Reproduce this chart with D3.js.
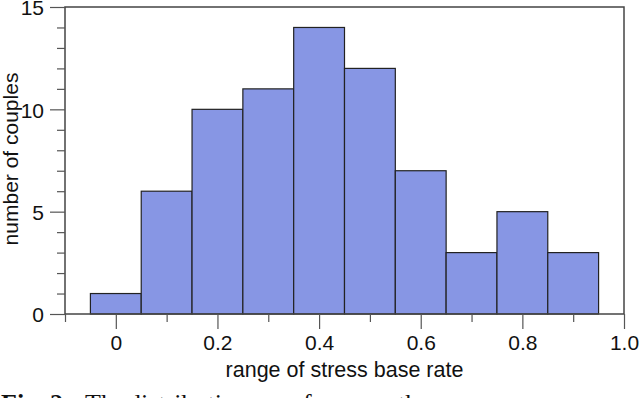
<!DOCTYPE html>
<html><head><meta charset="utf-8">
<script src="https://cdn.jsdelivr.net/npm/d3@7"></script>
<style>body{margin:0;background:#fff}svg{display:block}</style>
</head><body>
<script>
const binCenters = [0, 0.1, 0.2, 0.3, 0.4, 0.5, 0.6, 0.7, 0.8, 0.9];
const counts = [1, 6, 10, 11, 14, 12, 7, 3, 5, 3];
const binWidth = 0.1;
const xMajorTicks = [0, 0.2, 0.4, 0.6, 0.8, 1.0];
const xMinorTicks = [-0.1, 0.1, 0.3, 0.5, 0.7, 0.9];
const yMajorTicks = [0, 5, 10, 15];
const yMinorTicks = [1,2,3,4,6,7,8,9,11,12,13,14];
const captionWords = ["The", "distribution", "of", "the"];

const W = 640, H = 398;
const L = 65, R = 624, T = 7, B = 314;
const svg = d3.select("body").append("svg").attr("width", W).attr("height", H);
const x = d3.scaleLinear().domain([-0.1, 1.0]).range([L, R]);
const y = d3.scaleLinear().domain([0, 15]).range([B, T]);
const font = "'Liberation Sans', Arial, Helvetica, sans-serif";

// bars
svg.append("g").selectAll("rect").data(counts).join("rect")
  .attr("x", (d,i) => x(binCenters[i] - binWidth/2))
  .attr("y", d => y(d))
  .attr("width", (d,i) => x(binCenters[i] + binWidth/2) - x(binCenters[i] - binWidth/2))
  .attr("height", d => y(0) - y(d))
  .attr("fill", "#8796e4")
  .attr("stroke", "#222")
  .attr("stroke-width", 1.2);

// frame
svg.append("rect").attr("x", L).attr("y", T).attr("width", R-L).attr("height", B-T)
  .attr("fill", "none").attr("stroke", "#444").attr("stroke-width", 1.5);

// y axis
const gy = svg.append("g").attr("transform", `translate(${L},0)`)
  .call(d3.axisLeft(y).tickValues(yMajorTicks).tickSize(15).tickPadding(6).tickFormat(d3.format("d")));
gy.select(".domain").remove();
gy.selectAll("line").attr("stroke", "#555").attr("stroke-width", 1.2);
gy.selectAll("text").attr("font-family", font).attr("font-size", 21).attr("fill", "#111").attr("dy", "0.38em");
const gym = svg.append("g").attr("transform", `translate(${L},0)`)
  .call(d3.axisLeft(y).tickValues(yMinorTicks).tickSize(8).tickFormat(""));
gym.select(".domain").remove();
gym.selectAll("line").attr("stroke", "#555").attr("stroke-width", 1.2);

// x axis
const gx = svg.append("g").attr("transform", `translate(0,${B})`)
  .call(d3.axisBottom(x).tickValues(xMajorTicks).tickSize(15).tickPadding(6)
    .tickFormat(d => d === 0 ? "0" : d3.format(".1f")(d)));
gx.select(".domain").remove();
gx.selectAll("line").attr("stroke", "#555").attr("stroke-width", 1.2);
gx.selectAll("text").attr("font-family", font).attr("font-size", 21).attr("fill", "#111");
const gxm = svg.append("g").attr("transform", `translate(0,${B})`)
  .call(d3.axisBottom(x).tickValues(xMinorTicks).tickSize(8).tickFormat(""));
gxm.select(".domain").remove();
gxm.selectAll("line").attr("stroke", "#555").attr("stroke-width", 1.2);

// axis titles
svg.append("text").attr("x", (L+R)/2).attr("y", 377).attr("text-anchor", "middle")
  .attr("font-family", font).attr("font-size", 21.5).attr("fill", "#111")
  .text("range of stress base rate");
svg.append("text").attr("transform", `translate(18,159) rotate(-90)`)
  .attr("text-anchor", "middle").attr("font-family", font).attr("font-size", 21).attr("fill", "#111")
  .text("number of couples");

// caption (cut off at bottom edge, as in the reference)
const capX = [85, 128, 290, 398];
const cap = svg.append("text").attr("y", 412)
  .attr("font-family", "'Liberation Serif', 'Times New Roman', serif").attr("font-size", 26).attr("fill", "#111");
cap.append("tspan").attr("x", 1).attr("font-weight", "bold").text("Fig. 2");
captionWords.forEach((w, i) => cap.append("tspan").attr("x", capX[i]).text(w));
</script>
</body></html>
